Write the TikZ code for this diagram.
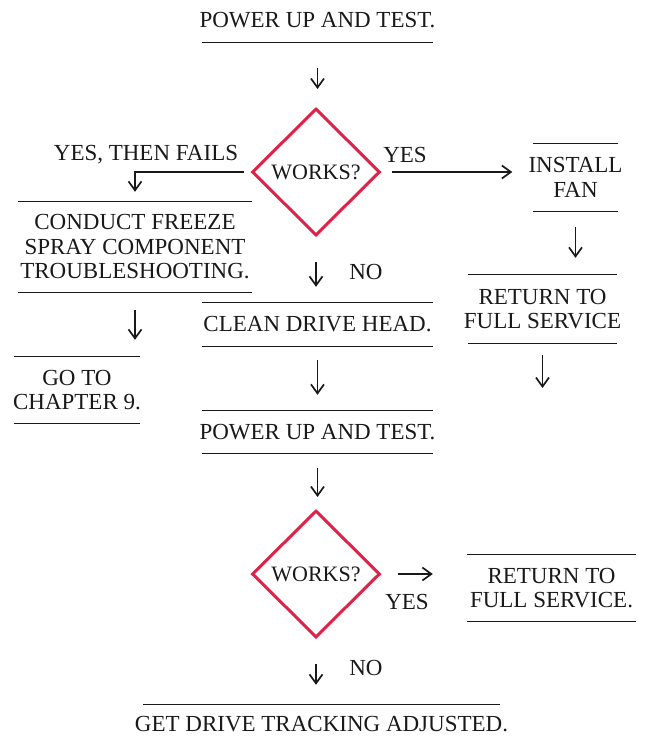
\documentclass[tikz,border=0pt]{standalone}
\usepackage{fontspec}
\setmainfont{Liberation Serif}
\usetikzlibrary{shapes.geometric,arrows.meta,calc}
\definecolor{ink}{RGB}{25,25,25}
\definecolor{dred}{RGB}{222,34,72}
\begin{document}
\begin{tikzpicture}[x=1pt,y=-1pt,
  every node/.style={font=\fontsize{23}{24.5}\selectfont, text=ink},
  box/.style={inner sep=0pt, align=center},
  dia/.style={diamond, draw=dred, line width=3pt, minimum width=128pt, minimum height=127pt, inner sep=1pt, font=\fontsize{22}{24}\selectfont},
  rule/.style={draw=ink, line width=1.2pt},
  arr/.style={draw=ink, line width=1.7pt, -{Straight Barb[length=9pt,width=13pt,line width=1.7pt]}},
  lbl/.style={inner sep=0pt}
]
\useasboundingbox (0,0) rectangle (648,745);
% boxes
\node[box, minimum height=44pt] (p1) at (317.5,20) {POWER UP AND TEST.};
\node[dia] (d1) at (316,172) {WORKS?};
\node[box, minimum height=90pt] (c) at (135,247) {CONDUCT FREEZE\\SPRAY COMPONENT\\TROUBLESHOOTING.};
\node[box, minimum height=66pt] (g) at (77,390) {GO TO\\CHAPTER 9.};
\node[box, minimum height=67pt] (i) at (575.5,177.5) {INSTALL\\FAN};
\node[box, minimum height=68pt] (r1) at (542.5,309) {RETURN TO\\FULL SERVICE};
\coordinate (r1end) at (542.5,388);
\node[box, minimum height=43pt] (cl) at (317.5,324.5) {CLEAN DRIVE HEAD.};
\node[box, minimum height=42pt] (p2) at (317.5,432) {POWER UP AND TEST.};
\node[dia] (d2) at (316,574) {WORKS?};
\node[box, minimum height=66pt] (r2) at (551.5,588) {RETURN TO\\FULL SERVICE.};
\node[box, minimum height=38pt] (gd) at (321.5,724) {GET DRIVE TRACKING ADJUSTED.};
% rules (half widths)
\draw[rule] ($(p1.south)+(-115.5,0)$) -- ($(p1.south)+(115.5,0)$);
\foreach \n/\w in {c/117,g/63,i/42.5,r1/74.5,cl/115.5,p2/115.5,r2/84.5}{
  \draw[rule] ($(\n.north)+(-\w,0)$) -- ($(\n.north)+(\w,0)$);
  \draw[rule] ($(\n.south)+(-\w,0)$) -- ($(\n.south)+(\w,0)$);
}
\draw[rule] ($(gd.north)+(-178.5,0)$) -- ($(gd.north)+(178.5,0)$);
% labels
\node[lbl] (l1) at (146,155) {YES, THEN FAILS};
\node[lbl] (l2) at (405,155) {YES};
\node[lbl] (l3) at (366,272) {NO};
\node[lbl] (l4) at (407,602) {YES};
\node[lbl] (l5) at (366,668) {NO};
% connectors
\draw[arr, shorten <=26pt, shorten >=18pt] (p1.south) -- (p1.south |- d1.north);
\draw[arr, shorten <=7pt, shorten >=10pt] (d1.west) -| (c.north);
\draw[arr, shorten <=10pt, shorten >=16pt] (d1.east) -- (d1.east -| i.west);
\draw[arr, shorten <=16pt, shorten >=17pt] (i.south) -- (i.south |- r1.north);
\draw[arr, shorten <=12pt] (r1.south) -- (r1end);
\draw[arr, shorten <=25pt, shorten >=16pt] (d1.south) -- (d1.south |- cl.north);
\draw[arr, shorten <=18pt, shorten >=17pt] (c.south) -- (c.south |- g.north);
\draw[arr, shorten <=14pt, shorten >=16pt] (cl.south) -- (cl.south |- p2.north);
\draw[arr, shorten <=15pt, shorten >=12pt] (p2.south) -- (p2.south |- d2.north);
\draw[arr, shorten <=16pt, shorten >=37pt] (d2.east) -- (d2.east -| r2.west);
\draw[arr, shorten <=25pt, shorten >=20pt] (d2.south) -- (d2.south |- gd.north);
\end{tikzpicture}
\end{document}
